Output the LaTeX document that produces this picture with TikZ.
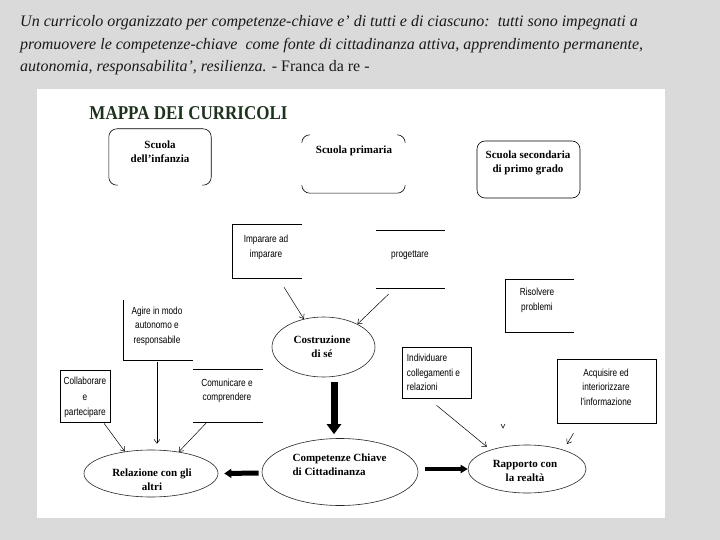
\documentclass[tikz,border=0pt]{standalone}
\usepackage{fontspec}
\setmainfont{Liberation Serif}
\newfontfamily\narrowf[FakeStretch=0.8]{Liberation Sans}
\usetikzlibrary{arrows.meta,shapes.geometric,calc}
\definecolor{bggray}{HTML}{DADADA}
\definecolor{titlegreen}{HTML}{1E321E}
\definecolor{hdr}{HTML}{1A1A1A}
\begin{document}
\begin{tikzpicture}[x=1pt,y=-1pt,
  hdrtext/.style={anchor=base west,inner sep=0,text=hdr,font=\fontsize{16}{18}\selectfont\itshape},
  boxshape/.style={rectangle,inner sep=0,draw=none},
  edge/.style={draw=black,line width=0.6pt},
  lbl/.style={inner sep=0,align=center,font=\narrowf\fontsize{10.3}{14.5}\selectfont},
  lbll/.style={inner sep=0,align=left,font=\narrowf\fontsize{10.3}{14.5}\selectfont},
  blbl/.style={inner sep=0,align=center,font=\bfseries\fontsize{11}{14}\selectfont},
  blbll/.style={inner sep=0,align=left,font=\bfseries\fontsize{11}{14}\selectfont},
  ell/.style={ellipse,inner sep=0,draw=black!85,line width=0.6pt},
  arr/.style={line width=0.5pt,-{Straight Barb[length=4pt,width=6pt]}},
  thickv/.style={line width=7pt,-{Triangle[length=10pt,width=14pt]}},
  thickh/.style={line width=5pt,-{Triangle[length=7pt,width=9pt]}},
  thickr/.style={line width=4.5pt,-{Triangle[length=7pt,width=8pt]}}
]
\useasboundingbox (0,0) rectangle (720,540);
\fill[bggray] (0,0) rectangle (720,540);
\fill[white] (37,89) rectangle (665,518);

% header
\node[hdrtext] (h1) at (20,27) {Un curricolo organizzato per competenze-chiave e’ di tutti e di ciascuno:\ \ tutti sono impegnati a};
\node[hdrtext] (h2) at (20,50) {promuovere le competenze-chiave\ \ come fonte di cittadinanza attiva, apprendimento permanente,};
\node[hdrtext] (h3) at (20,72) {autonomia, responsabilita’, resilienza. {\upshape - Franca da re -}};

% title
\node[inner sep=0,text=titlegreen,font=\bfseries\fontsize{17}{20}\selectfont] (title) at (188.5,113) {\scalebox{1}[1.15]{MAPPA DEI CURRICOLI}};

% schools
\node[boxshape,minimum width=102,minimum height=56] (inf) at (160,157) {};
\draw[edge,rounded corners=8] ([shift={(9,0)}]inf.south west) -- (inf.south west) -- (inf.north west) -- (inf.north east) -- (inf.south east) -- ([shift={(-9,0)}]inf.south east);
\node[blbl] (inft) at (160,151.5) {Scuola\\dell’infanzia};

\node[boxshape,minimum width=103,minimum height=58] (pri) at (353.5,164) {};
\draw[edge,rounded corners=8] ([shift={(0,8)}]pri.north west) -- (pri.north west) -- ([shift={(8,0)}]pri.north west);
\draw[edge,rounded corners=8] ([shift={(-8,0)}]pri.north east) -- (pri.north east) -- ([shift={(0,8)}]pri.north east);
\draw[edge,rounded corners=8] ([shift={(0,-8)}]pri.south west) -- (pri.south west) -- (pri.south east) -- ([shift={(0,-8)}]pri.south east);
\node[blbl] (prit) at (354,151) {Scuola primaria};

\node[boxshape,draw=black,line width=0.6pt,rounded corners=8,minimum width=103,minimum height=57] (sec) at (528.5,169.5) {};
\node[blbl] (sect) at (528,163) {Scuola secondaria\\di primo grado};

% competence boxes
\node[boxshape,minimum width=70,minimum height=53] (imp) at (267,251.5) {};
\draw[edge] (imp.north east) -- (imp.north west) -- (imp.south west) -- (imp.south east);
\node[lbl] (impt) at (266,247.5) {Imparare ad\\imparare};

\node[boxshape,minimum width=69,minimum height=57] (prog) at (410.5,259.5) {};
\draw[edge] (prog.north west) -- (prog.north east);
\draw[edge] (prog.south west) -- (prog.south east);
\node[lbl] (progt) at (410,255) {progettare};

\node[boxshape,minimum width=69,minimum height=53] (ris) at (539.5,305.5) {};
\draw[edge] (ris.north east) -- (ris.north west) -- (ris.south west) -- (ris.south east);
\node[lbl] (rist) at (537,300.5) {Risolvere\\problemi};

\node[boxshape,minimum width=70,minimum height=60] (agi) at (158,330) {};
\draw[edge] (agi.north west) -- (agi.south west) -- (agi.south east);
\node[lbl] (agit) at (157,326) {Agire in modo\\autonomo e\\responsabile};

\node[boxshape,minimum width=70,minimum height=53] (com) at (228,395.5) {};
\draw[edge] (com.north west) -- (com.north east);
\draw[edge] (com.south west) -- (com.south east);
\node[lbl] (comt) at (227,391) {Comunicare e\\comprendere};

\node[boxshape,draw=black,line width=0.6pt,minimum width=50,minimum height=52] (col) at (85,396) {};
\node[lbl,font=\narrowf\fontsize{10.3}{15.5}\selectfont] (colt) at (85,397.5) {Collaborare\\e\\partecipare};

\node[boxshape,draw=black,line width=0.6pt,minimum width=69,minimum height=51] (ind) at (436.5,372.5) {};
\node[lbll] (indt) at ([shift={(5,0)}]ind.west) [anchor=west] {Individuare\\collegamenti e\\relazioni};

\node[boxshape,draw=black,line width=0.6pt,minimum width=99,minimum height=64] (acq) at (606.5,391) {};
\node[lbl] (acqt) at (606,387) {Acquisire ed\\interiorizzare\\l’informazione};

% ellipses
\node[ell,minimum width=103,minimum height=60] (cs) at (323.5,347) {};
\node[blbl] (cst) at (322,347) {Costruzione\\di sé};

\node[ell,minimum width=156,minimum height=67] (cc) at (340,472) {};
\node[blbll] (cct) at (339.5,465) {Competenze Chiave\\di Cittadinanza};

\node[ell,minimum width=134,minimum height=47] (rel) at (151,473.5) {};
\node[blbl] (relt) at (152,480) {Relazione con gli\\altri};

\node[ell,minimum width=118,minimum height=48] (rap) at (527,469) {};
\node[blbl] (rapt) at (525,471) {Rapporto con\\la realtà};

% thin arrows
\draw[arr] ([shift={(17,9)}]imp.south) -- (cs.125);
\draw[arr] ([shift={(-22,6)}]prog.south) -- (cs.34);
\draw[arr] ([shift={(-1,2)}]agi.south) -- ([shift={(6,-6)}]rel.north);
\draw[arr] ([shift={(19,1)}]col.south) -- (rel.140);
\draw[arr] ([shift={(-22,1)}]com.south) -- (rel.38);
\draw[arr] ([shift={(0,7)}]ind.south) -- ([shift={(-4,-3)}]rap.152);
\draw[arr] ([shift={(-33,10)}]acq.south) -- ([shift={(40,-25)}]rap.center);
\draw[line width=0.6pt] (501,424) -- (503,428) -- (505,424);

% thick arrows
\draw[thickv] ([shift={(10.5,5)}]cs.south) -- ([shift={(-6,-4)}]cc.north);
\draw[thickh] ([shift={(-3,1)}]cc.west) -- ([shift={(6,0)}]rel.east);
\draw[thickr] ([shift={(7,-3)}]cc.east) -- (rap.west);
\end{tikzpicture}
\end{document}
